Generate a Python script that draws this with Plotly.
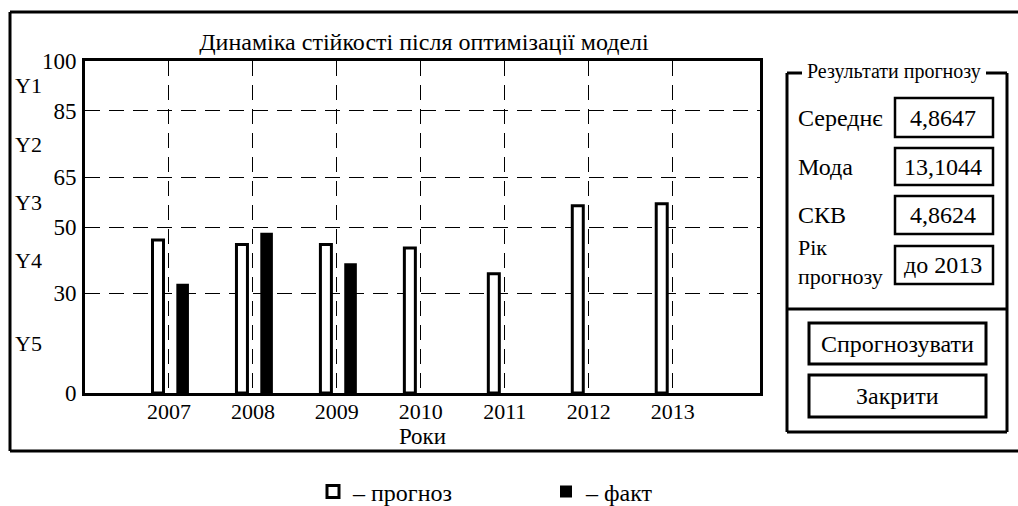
import plotly.graph_objects as go

# ---- data ----
years = [2007, 2008, 2009, 2010, 2011, 2012, 2013]
forecast = [46.1, 44.7, 44.7, 43.7, 35.9, 56.4, 57.0]
actual_years = [2007, 2008, 2009]
actual = [32.9, 48.3, 39.1]
y_ticks = [0, 30, 50, 65, 85, 100]
band_labels = ["Y5", "Y4", "Y3", "Y2", "Y1"]
title_text = "Динаміка стійкості після оптимізації моделі"
x_title = "Роки"
series_names = ["– прогноз", "– факт"]
panel_title = "Результати прогнозу"
panel_labels = ["Середнє", "Мода", "СКВ", "Рік<br>прогнозу"]
panel_values = ["4,8647", "13,1044", "4,8624", "до 2013"]
buttons = ["Спрогнозувати", "Закрити"]

FONT = "Liberation Serif"
W, H = 1018, 506
L, R, T, B = 85, 760, 61, 393


def px(x):
    return (x - L) / (R - L)


def py(y):
    return (B - y) / (B - T)


fig = go.Figure()
fig.add_trace(go.Bar(
    x=years, y=forecast, name=series_names[0],
    marker=dict(color="white", line=dict(color="black", width=3)),
    width=0.131, offset=-0.196, legend="legend",
))
fig.add_trace(go.Bar(
    x=actual_years, y=actual, name=series_names[1],
    marker=dict(color="black", line=dict(color="black", width=0)),
    width=0.15, offset=0.088, legend="legend2",
))

shapes = []


def seg(x0, y0, x1, y1, w=3):
    shapes.append(dict(type="line", xref="paper", yref="paper",
                       x0=px(x0), y0=py(y0), x1=px(x1), y1=py(y1),
                       line=dict(color="black", width=w), layer="above"))


def rect(x0, y0, x1, y1, w=3):
    shapes.append(dict(type="rect", xref="paper", yref="paper",
                       x0=px(x0), y0=py(y0), x1=px(x1), y1=py(y1),
                       line=dict(color="black", width=w), layer="above"))


# outer frame (right side off-canvas)
seg(10, 12, 1030, 12)
seg(10, 12, 10, 451)
seg(10, 451, 1030, 451)

# group box
seg(787, 73, 802, 73)
seg(986, 73, 1007, 73)
seg(787, 73, 787, 432)
seg(1007, 73, 1007, 432)
seg(787, 432, 1007, 432)
seg(787, 309, 1007, 309)

annotations = []


def text(x, y, s, size=24, xanchor="center"):
    annotations.append(dict(xref="paper", yref="paper", x=px(x), y=py(y),
                            text=s, showarrow=False, xanchor=xanchor,
                            yanchor="middle", align="left",
                            font=dict(family=FONT, size=size, color="black")))


text(894, 72, panel_title, size=20)

box_tops = [98, 148, 196, 246]
box_bots = [137, 185, 234, 284]
for i, (lab, val) in enumerate(zip(panel_labels, panel_values)):
    rect(895, box_tops[i], 993, box_bots[i], w=2.5)
    cy = (box_tops[i] + box_bots[i]) / 2
    text(943, cy, val, size=24)
    if "<br>" in lab:
        text(796, 262, lab, size=22, xanchor="left")
    else:
        text(796, cy, lab, size=24, xanchor="left")

btn_tops = [323, 375]
btn_bots = [364, 417]
for i, b in enumerate(buttons):
    rect(809, btn_tops[i], 986, btn_bots[i], w=3)
    text(897, (btn_tops[i] + btn_bots[i]) / 2, b, size=24)

# band labels Y1..Y5 at midpoints between successive ticks
mids = [(a + b) / 2 for a, b in zip(y_ticks[:-1], y_ticks[1:])]
for lab, m in zip(band_labels, mids):
    annotations.append(dict(xref="paper", yref="y", x=px(28), y=m, text=lab,
                            showarrow=False, xanchor="center", yanchor="middle",
                            font=dict(family=FONT, size=22, color="black")))

fig.update_layout(
    width=W, height=H,
    margin=dict(l=L, r=W - R, t=T, b=H - B, pad=0, autoexpand=False),
    paper_bgcolor="white", plot_bgcolor="white",
    font=dict(family=FONT, color="black", size=22),
    barmode="overlay",
    title=dict(text=title_text, x=424 / W, xanchor="center", y=1 - 42 / H,
               yanchor="middle", yref="container",
               font=dict(family=FONT, size=24, color="black")),
    xaxis=dict(range=[2006, 2014.04], tickvals=years, ticktext=[str(y) for y in years],
               showgrid=True, gridcolor="black", griddash="15px,9px", gridwidth=1.3,
               showline=True, linecolor="black", linewidth=3, mirror=True,
               zeroline=False, ticks="", ticklabelstandoff=-3,
               tickfont=dict(family=FONT, size=22),
               title=dict(text=x_title, standoff=0, font=dict(family=FONT, size=23))),
    yaxis=dict(range=[0, 100], tickvals=y_ticks,
               showgrid=True, gridcolor="black", griddash="15px,9px", gridwidth=1.3,
               showline=True, linecolor="black", linewidth=3, mirror=True,
               zeroline=False, ticks="", ticklabelstandoff=1,
               tickfont=dict(family=FONT, size=23)),
    legend=dict(orientation="h", x=px(313), y=py(492), xanchor="left", yanchor="middle",
                font=dict(family=FONT, size=24), bgcolor="rgba(0,0,0,0)"),
    legend2=dict(orientation="h", x=px(546), y=py(492), xanchor="left", yanchor="middle",
                 font=dict(family=FONT, size=24), bgcolor="rgba(0,0,0,0)"),
    showlegend=True,
    shapes=shapes,
    annotations=annotations,
)

fig.write_html(
    "out.html",
    config={"displayModeBar": False},
    post_script="document.body.style.margin='0';document.body.style.overflow='hidden';",
)
